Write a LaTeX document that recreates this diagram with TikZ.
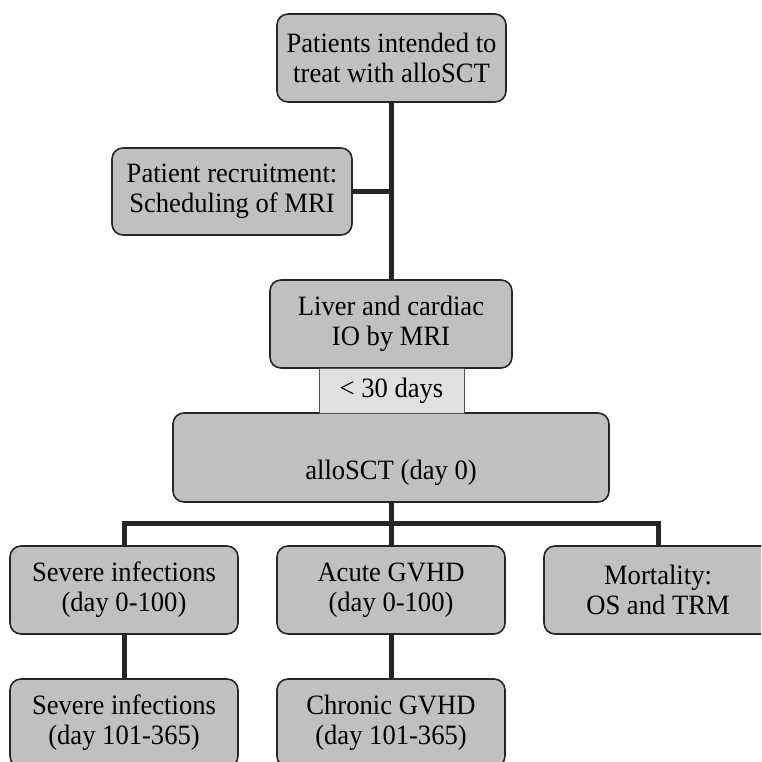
\documentclass[tikz,border=0pt]{standalone}
\usepackage{fontspec}
\setmainfont{Liberation Serif}[FakeStretch=0.95]
\definecolor{boxgray}{HTML}{C0C0C0}
\definecolor{lightgray}{HTML}{E0E0E0}
\definecolor{edgegray}{HTML}{262626}
\begin{document}
\begin{tikzpicture}[x=1pt,y=-1pt,
  box/.style={draw=edgegray, line width=1.6pt, fill=boxgray, rounded corners=11pt,
    align=center, inner sep=0pt, font=\fontsize{28}{30}\selectfont},
  smallbox/.style={draw=edgegray!80, line width=1pt, fill=lightgray,
    align=center, inner sep=0pt, font=\fontsize{28}{30}\selectfont},
  conn/.style={line width=5pt, draw=edgegray}]
\path[use as bounding box] (0,0) rectangle (761,762);
\clip (0,0) rectangle (761,762);

\node[box, minimum width=229pt, minimum height=88pt] (top) at (391.5,58) {Patients intended to\\treat with alloSCT};
\node[box, minimum width=240pt, minimum height=87pt] (rec) at (232,191.5) {Patient recruitment:\\Scheduling of MRI};
\node[box, minimum width=242pt, minimum height=88pt] (liver) at (391,324) {Liver and cardiac\\IO by MRI};
\node[box, minimum width=436pt, minimum height=89pt] (allo) at (391,457.5) {\strut\\alloSCT (day 0)};
\node[smallbox, minimum width=145pt, minimum height=45pt] (days) at (391.5,390.5) {{<} 30 days};

\node[box, minimum width=228pt, minimum height=88pt] (sev1) at (124,590) {Severe infections\\(day 0-100)};
\node[box, minimum width=228pt, minimum height=88pt] (acute) at (391,590) {Acute GVHD\\(day 0-100)};
\node[box, minimum width=228pt, minimum height=88pt] (mort) at (658,590) {Mortality:\\OS and TRM};
\node[box, minimum width=228pt, minimum height=88pt] (sev2) at (124,723) {Severe infections\\(day 101-365)};
\node[box, minimum width=228pt, minimum height=88pt] (chron) at (391,723) {Chronic GVHD\\(day 101-365)};

\coordinate (bar) at (391,523);
\draw[conn] (top.south -| liver.north) -- (liver.north);
\draw[conn] (rec.east) -- (rec.east -| liver.north);
\draw[conn] (allo.south) -- (acute.north);
\draw[conn] (sev1.north) -- (sev1.north |- bar) -- (mort.north |- bar) -- (mort.north);
\draw[conn] (sev1.south) -- (sev2.north);
\draw[conn] (acute.south) -- (chron.north);
\end{tikzpicture}
\end{document}
